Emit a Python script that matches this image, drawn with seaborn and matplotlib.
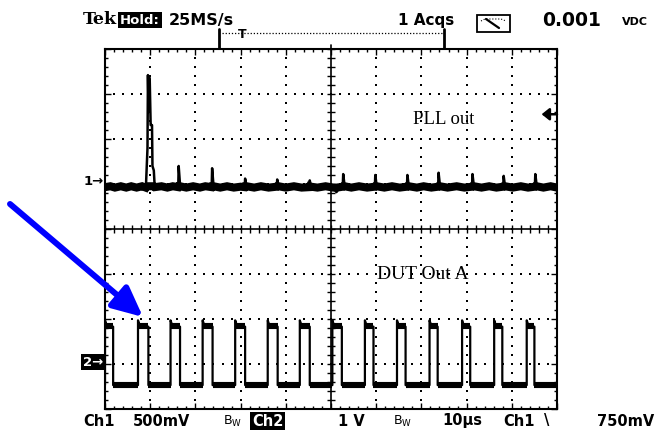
import numpy as np
import pandas as pd
import matplotlib
matplotlib.use('Agg')
import matplotlib.pyplot as plt
import seaborn as sns
from matplotlib.lines import Line2D
from matplotlib.patches import Rectangle, FancyArrowPatch

W, H = 659, 430

# screen units: x = time divisions 0..10, y = vertical divisions -4..4
# Ch1 "PLL out" trace
pll_t = [0.00, 0.12, 0.22, 0.35, 0.47, 0.58, 0.70, 0.82, 0.90,
         0.905, 0.94, 0.95, 0.965, 0.975, 0.99, 1.01, 1.04, 1.05, 1.08, 1.10,
         1.25, 1.38, 1.50, 1.62, 1.63, 1.66, 1.80, 1.95, 2.10, 2.22, 2.36, 2.37, 2.40,
         2.55, 2.70, 2.85, 3.00, 3.09, 3.10, 3.13, 3.30, 3.45, 3.62, 3.80, 3.81, 3.84,
         4.00, 4.18, 4.35, 4.52, 4.53, 4.56, 4.70, 4.88, 5.05, 5.12, 5.20, 5.26, 5.27, 5.30,
         5.45, 5.62, 5.80, 5.97, 5.98, 6.01, 6.18, 6.35, 6.52, 6.68, 6.69, 6.72,
         6.90, 7.05, 7.22, 7.37, 7.38, 7.41, 7.58, 7.78, 7.95, 8.12, 8.13, 8.16,
         8.33, 8.50, 8.66, 8.81, 8.82, 8.85, 9.02, 9.20, 9.36, 9.51, 9.52, 9.55,
         9.70, 9.86, 10.0]
pll_v = [0.93, 0.97, 0.90, 0.96, 0.91, 0.95, 0.90, 0.96, 0.92,
         0.93, 1.80, 3.42, 2.60, 3.38, 3.30, 2.31, 2.31, 1.40, 1.30, 0.93,
         0.96, 0.90, 0.95, 0.93, 1.40, 0.98, 0.92, 0.96, 0.90, 0.95, 0.93, 1.35, 0.97,
         0.91, 0.96, 0.89, 0.94, 0.93, 1.12, 0.95, 0.90, 0.96, 0.91, 0.94, 1.10, 0.95,
         0.90, 0.95, 0.91, 0.93, 1.08, 0.94, 0.90, 0.96, 0.91, 0.82, 0.93, 0.94, 1.22, 0.97,
         0.91, 0.96, 0.90, 0.94, 1.20, 0.96, 0.90, 0.95, 0.91, 0.94, 1.20, 0.96,
         0.90, 0.96, 0.92, 0.94, 1.25, 0.97, 0.91, 0.95, 0.90, 0.94, 1.22, 0.96,
         0.91, 0.96, 0.90, 0.94, 1.18, 0.95, 0.90, 0.96, 0.91, 0.94, 1.22, 0.97,
         0.90, 0.95, 0.92]

# Ch2 "DUT Out A" square wave: edge times and levels
dut_rise = [0.00, 0.73, 1.45, 2.16, 2.88, 3.60, 4.31, 5.03, 5.75, 6.46, 7.18, 7.90, 8.61, 9.33]
dut_fall = [0.18, 0.96, 1.66, 2.38, 3.10, 3.82, 4.53, 5.24, 5.94, 6.65, 7.36, 8.08, 8.79, 9.50]
dut_low = -3.47
dut_high = -2.17
dut_peak = -2.03

trig_level = 2.55

sns.set_theme(style='white')
plt.rcParams['font.family'] = ['DejaVu Sans']
plt.rcParams['text.color'] = 'black'


def fx(px):
    return px / W


def fy(py):
    return 1 - py / H


fig = plt.figure(figsize=(W / 100, H / 100), dpi=100)
fig.patch.set_facecolor('white')
ax = fig.add_axes([fx(105), fy(409), 452 / W, 360 / H])
ax.set_facecolor('white')

# --- graticule ---
ax.set_xlim(0, 10)
ax.set_ylim(-4, 4)
ax.set_xticks(np.arange(0, 11, 1))
ax.set_xticks(np.arange(0, 10.01, 0.2), minor=True)
ax.set_yticks(np.arange(-4, 5, 1))
ax.set_yticks(np.arange(-4, 4.01, 0.2), minor=True)
ax.tick_params(which='both', direction='in', top=True, right=True, bottom=True, left=True,
               labelbottom=False, labelleft=False, color='black', width=1.0)
ax.tick_params(which='major', length=4.2)
ax.tick_params(which='minor', length=2.3)
for sp in ax.spines.values():
    sp.set_color('black')
    sp.set_linewidth(1.5)

dots_x = np.arange(0, 10.01, 0.2)
dots_y = np.arange(-4, 4.01, 0.2)
for gx in [1, 2, 3, 4, 6, 7, 8, 9]:
    ax.plot(np.full(len(dots_y), gx), dots_y, ls='none', marker='s', ms=1.5, mew=0, color='black')
for gy in [-3, -2, -1, 1, 2, 3]:
    ax.plot(dots_x, np.full(len(dots_x), gy), ls='none', marker='s', ms=1.5, mew=0, color='black')

ax.axvline(5, color='black', lw=1.2)
ax.axhline(0, color='black', lw=1.2)
ax.plot(dots_x, np.zeros(len(dots_x)), ls='none', marker='|', ms=6, mew=1.0, color='black')
ax.plot(np.full(len(dots_y), 5.0), dots_y, ls='none', marker='_', ms=6, mew=1.0, color='black')

# --- Ch1 trace ---
pll = pd.DataFrame({'t': pll_t, 'v': pll_v})
pll['band'] = pll['v'].clip(0.92, 0.95)
sns.lineplot(data=pll, x='t', y='band', estimator=None, sort=False, color='black', lw=5.8,
             solid_capstyle='butt', solid_joinstyle='miter', ax=ax)
sns.lineplot(data=pll, x='t', y='v', estimator=None, sort=False, color='black', lw=1.8,
             solid_capstyle='butt', ax=ax)

# --- Ch2 trace ---
thin_t, thin_v = [], []
seg_t, seg_v, seg_id = [], [], []
for i, (r, f) in enumerate(zip(dut_rise, dut_fall)):
    thin_t += [r, r, r + 0.03, r + 0.06, f, f]
    thin_v += [dut_low, dut_peak, dut_high + 0.05, dut_high, dut_high, dut_low]
    seg_t += [r + 0.01, f]
    seg_v += [dut_high + 0.02, dut_high + 0.02]
    seg_id += [2 * i, 2 * i]
    nxt = dut_rise[i + 1] if i + 1 < len(dut_rise) else 10.0
    seg_t += [f, nxt]
    seg_v += [dut_low, dut_low]
    seg_id += [2 * i + 1, 2 * i + 1]
thin_t.append(10.0)
thin_v.append(dut_low)

dut = pd.DataFrame({'t': thin_t, 'v': thin_v})
dut_seg = pd.DataFrame({'t': seg_t, 'v': seg_v, 'seg': seg_id})
sns.lineplot(data=dut_seg, x='t', y='v', units='seg', estimator=None, sort=False,
             color='black', lw=4.4, solid_capstyle='butt', ax=ax)
sns.lineplot(data=dut, x='t', y='v', estimator=None, sort=False, color='black', lw=1.6,
             solid_capstyle='butt', ax=ax)
ax.set_xlabel('')
ax.set_ylabel('')

# channel names on screen
ax.text(6.81, 2.44, 'PLL out', family='Liberation Serif', fontsize=13.5, va='center', ha='left')
ax.text(6.02, -1.0, 'DUT Out A', family='Liberation Serif', fontsize=14, va='center', ha='left')

# trigger level marker
ax.add_patch(FancyArrowPatch((10.0, trig_level), (9.66, trig_level),
                             arrowstyle='-|>,head_length=4.5,head_width=3.6', mutation_scale=1,
                             lw=1.8, color='black', shrinkA=0, shrinkB=0, clip_on=False))

# channel ground markers
fig.text(fx(104), fy(182), '1\u2192', fontsize=9.5, fontweight='bold', ha='right', va='center')
fig.text(fx(103), fy(362), '2\u2192', fontsize=9.5, fontweight='bold', ha='right', va='center',
         color='white', bbox=dict(boxstyle='square,pad=0.15', fc='black', ec='none'))

# --- status line on top ---
fig.text(fx(83), fy(20), 'Tek', family='DejaVu Serif', fontsize=12.5, fontweight='bold',
         va='center', ha='left')
fig.text(fx(120), fy(20), 'Hold:', fontsize=9.5, fontweight='bold', va='center', ha='left',
         color='white', bbox=dict(boxstyle='square,pad=0.15', fc='black', ec='none'))
fig.text(fx(169), fy(20), '25MS/s', fontsize=11.5, fontweight='bold', va='center', ha='left')
fig.text(fx(398), fy(20), '1 Acqs', fontsize=11, fontweight='bold', va='center', ha='left')
fig.text(fx(542), fy(21), '0.001', fontsize=13.5, fontweight='bold', va='center', ha='left')
fig.text(fx(622), fy(22), 'VDC', fontsize=8, fontweight='bold', va='center', ha='left')

# meter icon
fig.add_artist(Rectangle((fx(477), fy(32)), 33 / W, 17 / H, transform=fig.transFigure,
                         fill=False, ec='black', lw=1.3))
fig.add_artist(Line2D([fx(486), fx(499)], [fy(19), fy(28)], transform=fig.transFigure,
                      color='black', lw=1.6))
fig.add_artist(Line2D([fx(481), fx(485), fx(501), fx(506)], [fy(21), fy(19), fy(19), fy(21)],
                      transform=fig.transFigure, color='black', lw=0.8, ls=':'))

# record / trigger-position bracket
fig.add_artist(Line2D([fx(219), fx(219)], [fy(29), fy(48)], transform=fig.transFigure,
                      color='black', lw=2.0))
fig.add_artist(Line2D([fx(444), fx(444)], [fy(29), fy(48)], transform=fig.transFigure,
                      color='black', lw=2.0))
fig.add_artist(Line2D([fx(222), fx(442)], [fy(33), fy(33)], transform=fig.transFigure,
                      color='black', lw=0.9, ls=(0, (1, 1.5))))
fig.text(fx(242), fy(34), 'T', fontsize=9, fontweight='bold', va='center', ha='center')
fig.add_artist(Line2D([fx(331), fx(331)], [fy(45), fy(49)], transform=fig.transFigure,
                      color='black', lw=1.2))

# --- status line on bottom ---
yb = fy(421)
fig.text(fx(83), yb, 'Ch1', fontsize=10.5, fontweight='bold', va='center', ha='left')
fig.text(fx(133), yb, '500mV', fontsize=10.5, fontweight='bold', va='center', ha='left')
fig.text(fx(223), yb, r'B$_\mathregular{W}$', fontsize=9, va='center', ha='left')
fig.text(fx(252), yb, 'Ch2', fontsize=10.5, fontweight='bold', va='center', ha='left',
         color='white', bbox=dict(boxstyle='square,pad=0.12', fc='black', ec='none'))
fig.text(fx(338), yb, '1 V', fontsize=10.5, fontweight='bold', va='center', ha='left')
fig.text(fx(393), yb, r'B$_\mathregular{W}$', fontsize=9, va='center', ha='left')
fig.text(fx(442), yb, '10\u00b5s', fontsize=10.5, fontweight='bold', va='center', ha='left')
fig.text(fx(503), yb, 'Ch1', fontsize=10.5, fontweight='bold', va='center', ha='left')
fig.text(fx(544), yb, '\\', fontsize=10.5, fontweight='bold', va='center', ha='left')
fig.text(fx(597), yb, '750mV', fontsize=10.5, fontweight='bold', va='center', ha='left')

# annotation arrow pointing at the first Ch2 pulse
fig.add_artist(FancyArrowPatch((fx(10), fy(204)), (fx(143), fy(317)), transform=fig.transFigure,
                               arrowstyle='-|>,head_length=18,head_width=8.5', mutation_scale=1,
                               lw=4.3, color=(0, 0, 1), shrinkA=0, shrinkB=0))

fig.savefig('out.png', dpi=100, facecolor='white')
